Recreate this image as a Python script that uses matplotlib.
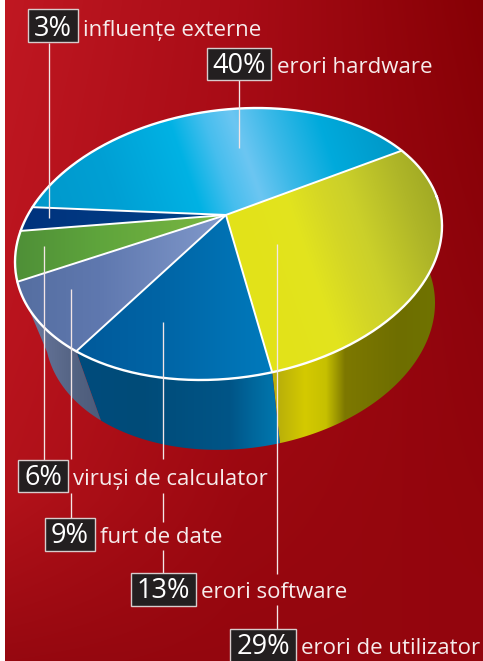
import numpy as np
import matplotlib
matplotlib.use("Agg")
import matplotlib.pyplot as plt
from matplotlib.path import Path
from matplotlib.patches import PathPatch, Rectangle

W, H = 483, 661
# data
categories = ["erori hardware", "erori de utilizator", "erori software",
              "furt de date", "viruși de calculator", "influențe externe"]
values = [40, 29, 13, 9, 6, 3]

# geometry / style
HUB = np.array([-0.012, 0.217])
UP = dict(cx=228.5, cy=244, X=213.5, Yx=18, e=134.8)
LO = dict(cx=240, cy=318, X=195, Yx=15, e=131)
FONT = ["Open Sans", "DejaVu Sans"]

top_stops = {
    "erori hardware": [(0, (0, 150, 200)), (110, (0, 160, 212)), (190, (0, 178, 228)), (225, (70, 190, 238)),
                       (255, (108, 198, 242)), (290, (60, 185, 232)), (340, (0, 170, 220)), (420, (0, 148, 195))],
    "erori de utilizator": [(225, (226, 226, 25)), (280, (226, 228, 30)), (318, (212, 214, 38)), (345, (203, 208, 42)),
                            (400, (175, 182, 40)), (445, (155, 165, 35))],
    "erori software": [(80, (0, 90, 155)), (160, (0, 100, 165)), (270, (0, 122, 188))],
    "furt de date": [(15, (85, 110, 160)), (100, (95, 120, 175)), (220, (128, 152, 202))],
    "viruși de calculator": [(15, (78, 143, 55)), (100, (95, 165, 60)), (220, (122, 182, 65))],
    "influențe externe": [(20, (0, 50, 125)), (225, (0, 68, 138))],
}
wall_stops = {
    "erori de utilizator": [(278, (185, 175, 10)), (305, (212, 202, 0)), (326, (198, 192, 0)), (345, (125, 120, 0)),
                            (400, (110, 110, 0)), (440, (112, 116, 0))],
    "erori software": [(75, (0, 75, 125)), (140, (0, 75, 120)), (230, (0, 85, 135)), (252, (0, 102, 155)),
                       (282, (0, 122, 178))],
    "furt de date": [(20, (115, 130, 165)), (50, (95, 110, 145)), (80, (82, 97, 128)), (105, (75, 90, 122))],
}
bg_x = [5, 240, 483]
bg_y = [0, 330, 500, 661]
bg_rgb = np.array([
    [(192, 24, 34), (168, 12, 22), (134, 0, 5)],
    [(186, 20, 30), (165, 10, 20), (142, 4, 12)],
    [(178, 18, 26), (155, 8, 16), (146, 5, 12)],
    [(150, 8, 16), (148, 6, 14), (148, 6, 14)],
], float)

# label: box (x0, y0, x1, y1), text x, baseline y
label_pos = {
    "influențe externe": ((28, 9, 78, 42), 83, 36),
    "erori hardware": ((207, 48, 271, 80), 277, 73),
    "viruși de calculator": ((18, 460, 68, 492), 73, 485),
    "furt de date": ((45, 518, 95, 551), 100, 543),
    "erori software": ((131, 573, 196, 606), 201, 598),
    "erori de utilizator": ((230, 629, 296, 670), 301, 654),
}
leaders = [(49, 43, 218), (239, 80, 148), (44, 246, 460), (71, 289, 459), (71, 493, 518),
           (163, 322, 459), (163, 493, 522), (163, 550, 573), (277, 244, 574), (277, 605, 629)]


def ramp(stops, x):
    xs = [s[0] for s in stops]
    cs = np.array([s[1] for s in stops], float)
    return np.stack([np.interp(x, xs, cs[:, i]) for i in range(3)], axis=-1) / 255


k = np.hypot(*HUB)
eh = HUB / k
nh = np.array([-eh[1], eh[0]])
s = np.sqrt(1 - k * k)


def rim(phi_deg):
    phi = np.radians(phi_deg)
    x, y = np.cos(phi), np.sin(phi)
    a = x * eh[0] + y * eh[1]
    b = x * nh[0] + y * nh[1]
    a2 = (a + k) / (1 + k * a)
    b2 = b * s / (1 + k * a)
    return a2 * eh[0] + b2 * nh[0], a2 * eh[1] + b2 * nh[1]


def px(u, v, g):
    return g["cx"] + g["X"] * u, g["cy"] - g["Yx"] * u - g["e"] * v


def clipped_image(img, verts, z):
    codes = [Path.MOVETO] + [Path.LINETO] * (len(verts) - 2) + [Path.CLOSEPOLY]
    im = ax.imshow(img, extent=(0, W, H, 0), aspect="auto", zorder=z, interpolation="bilinear")
    patch = PathPatch(Path(verts, codes), transform=ax.transData, facecolor="none", edgecolor="none")
    ax.add_patch(patch)
    im.set_clip_path(patch)


fig = plt.figure(figsize=(W / 100, H / 100), dpi=100, facecolor="white")
ax = fig.add_axes([0, 0, 1, 1])
ax.axis("off")

# background
yy, xx = np.mgrid[0:H, 0:W - 5] + 0.5
xx = xx + 5
bg = np.zeros((H, W - 5, 3))
for c in range(3):
    rows = np.array([np.interp(xx[0], bg_x, bg_rgb[r, :, c]) for r in range(len(bg_y))])
    for j in range(W - 5):
        bg[:, j, c] = np.interp(yy[:, 0], bg_y, rows[:, j])
ax.imshow(bg / 255, extent=(5, W, H, 0), aspect="auto", zorder=0, interpolation="bilinear")

# angular ranges from the values
vals = dict(zip(categories, values))
a0 = 24.5
angles = {"erori hardware": (a0, a0 + vals["erori hardware"] * 3.6)}
cur = angles["erori hardware"][1]
for name in ["influențe externe", "viruși de calculator", "furt de date", "erori software", "erori de utilizator"]:
    angles[name] = (cur, cur + vals[name] * 3.6)
    cur += vals[name] * 3.6

gy, gx = np.mgrid[0:H, 0:W] + 0.5

# side walls
for name, stops in wall_stops.items():
    a1, a2 = angles[name]
    ph = np.linspace(a1, a2, 200)
    u, v = rim(ph)
    xu, yu = px(u, v, UP)
    xl, yl = px(u, v, LO)
    verts = list(zip(xu, yu)) + list(zip(xl[::-1], yl[::-1])) + [(xu[0], yu[0])]
    clipped_image(ramp(stops, gx), verts, 2)

# top faces
hub_xy = px(HUB[0], HUB[1], UP)
for name, stops in top_stops.items():
    a1, a2 = angles[name]
    ph = np.linspace(a1, a2, 200)
    u, v = rim(ph)
    xr, yr = px(u, v, UP)
    verts = [hub_xy] + list(zip(xr, yr)) + [hub_xy]
    slant = 0.35 if name in ("erori hardware", "erori de utilizator") else 0.0
    clipped_image(ramp(stops, gx - (gy - 180) * slant), verts, 3)
    ax.plot([hub_xy[0], xr[0]], [hub_xy[1], yr[0]], color="white", lw=1.4, zorder=4, solid_capstyle="round")

# rim outline
ph = np.linspace(0, 360, 500)
u, v = rim(ph)
xr, yr = px(u, v, UP)
ax.plot(xr, yr, color="white", lw=1.7, zorder=5)

# leaders
for x, y0, y1 in leaders:
    ax.plot([x, x], [y0, y1], color="#f3e6e6", lw=0.95, zorder=6, solid_capstyle="butt")

# labels
for name in categories:
    (x0, y0, x1, y1), tx, ty = label_pos[name]
    ax.add_patch(Rectangle((x0, y0), x1 - x0, y1 - y0, facecolor="#231f20", edgecolor="#d8cccc",
                           lw=1.0, zorder=7))
    ax.text((x0 + x1) / 2, ty, f"{vals[name]}%", color="white", ha="center",
            va="baseline", fontsize=19.5, family=FONT, zorder=8)
    ax.text(tx, ty, name, color="#f6ecec", ha="left", va="baseline", fontsize=16, family=FONT, zorder=8)

ax.set_xlim(0, W)
ax.set_ylim(H, 0)
fig.savefig("out.png", dpi=100, facecolor="white")
